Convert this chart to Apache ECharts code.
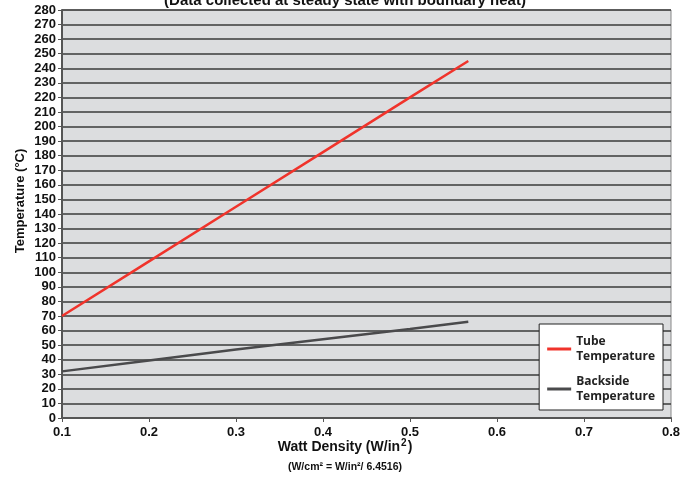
<!DOCTYPE html>
<html><head><meta charset="utf-8">
<script src="https://cdn.jsdelivr.net/npm/echarts@6/dist/echarts.min.js"></script>
<style>html,body{margin:0;padding:0;background:#fff}#c{width:690px;height:477px}</style>
</head><body><div id="c"></div>
<script>
const wattDensity = [0.1, 0.2, 0.3, 0.4, 0.5, 0.567];
const tubeTemp = [70, 107.5, 145, 182.5, 220, 245];
const backsideTemp = [32, 39.5, 47, 54, 61, 66];
const seriesNames = ['Tube\nTemperature', 'Backside\nTemperature'];
const titleText = '(Data collected at steady state with boundary heat)';
const yName = 'Temperature (°C)';
const xNameMain = 'Watt Density (W/in';
const xNameSup = '2';
const xSub = '(W/cm² = W/in²/ 6.4516)';

const chart = echarts.init(document.getElementById('c'), null, {renderer: 'canvas'});
const font = 'Liberation Sans, Arial, sans-serif';
chart.setOption({
  animation: false,
  backgroundColor: '#fff',
  title: {text: titleText, left: 'center', top: -12, textStyle: {fontFamily: font, fontWeight: 'bold', fontSize: 15, color: '#111'}},
  grid: {left: 62, right: 19, top: 10, bottom: 59, show: true, backgroundColor: '#dcdddf', borderColor: '#888', borderWidth: 1},
  legend: {
    orient: 'vertical', right: 27, bottom: 67, width: 100,
    backgroundColor: '#fff', borderColor: '#222', borderWidth: 1,
    padding: [10, 8, 6, 8], itemGap: 10, itemWidth: 24, itemHeight: 3, icon: 'rect',
    textStyle: {fontFamily: 'Open Sans, Liberation Sans, sans-serif', fontWeight: 'bold', fontSize: 12, color: '#222', lineHeight: 15},
    data: seriesNames
  },
  xAxis: {
    type: 'value', min: 0.1, max: 0.8, interval: 0.1,
    axisLine: {show: true, lineStyle: {color: '#555', width: 2}},
    axisTick: {show: true, length: 4, lineStyle: {color: '#555', width: 1}},
    splitLine: {show: false},
    axisLabel: {fontFamily: font, fontWeight: 'bold', fontSize: 13, color: '#111', margin: 8, formatter: v => v.toFixed(1)}
  },
  yAxis: {
    type: 'value', min: 0, max: 280, interval: 10,
    axisLine: {show: true, lineStyle: {color: '#555', width: 2}},
    axisTick: {show: true, length: 4, lineStyle: {color: '#555', width: 1}},
    splitLine: {show: true, lineStyle: {color: '#3a3a3a', width: 1.5}},
    axisLabel: {fontFamily: font, fontWeight: 'bold', fontSize: 13, color: '#111', margin: 6}
  },
  graphic: [
    {type: 'text', x: 20, y: 201, rotation: Math.PI / 2, style: {
      text: yName, fontFamily: font, fontWeight: 'bold', fontSize: 13, fill: '#111', align: 'center', verticalAlign: 'middle'}},
    {type: 'text', left: 'center', top: 438, x: 22, style: {
      text: '{a|' + xNameMain + '}{s|' + xNameSup + '}{a|)}',
      rich: {
        a: {fontFamily: font, fontWeight: 'bold', fontSize: 14, fill: '#111', color: '#111', height: 18},
        s: {fontFamily: font, fontWeight: 'bold', fontSize: 10, fill: '#111', color: '#111', verticalAlign: 'top', padding: [0, 1, 6, 1]}
      }}},
    {type: 'text', left: 'center', top: 462, x: 22, style: {text: xSub, fontFamily: font, fontWeight: 'bold', fontSize: 10.5, fill: '#111'}}
  ],
  series: [
    {name: seriesNames[0], type: 'line', showSymbol: false, color: '#f0332b', lineStyle: {width: 2.5, color: '#f0332b'},
      data: wattDensity.map((x, i) => [x, tubeTemp[i]])},
    {name: seriesNames[1], type: 'line', showSymbol: false, color: '#4a4a4c', lineStyle: {width: 2.5, color: '#4a4a4c'},
      data: wattDensity.map((x, i) => [x, backsideTemp[i]])}
  ]
});
</script></body></html>
